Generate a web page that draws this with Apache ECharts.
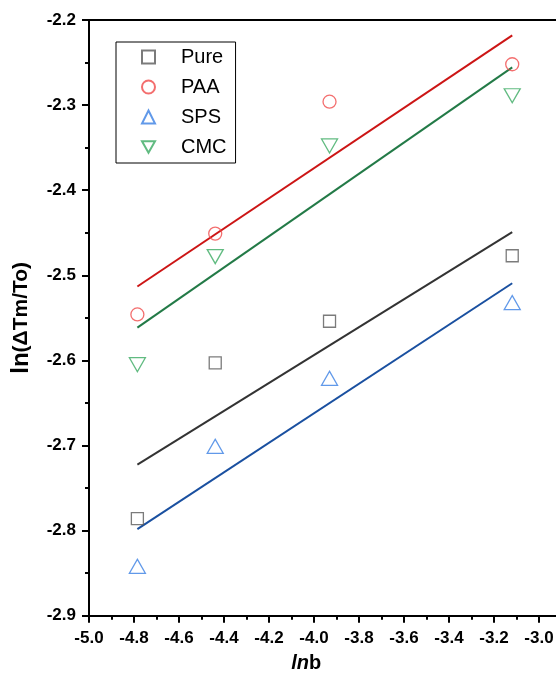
<!DOCTYPE html>
<html>
<head>
<meta charset="utf-8">
<script src="https://cdn.jsdelivr.net/npm/echarts@6/dist/echarts.min.js"></script>
<style>html,body{margin:0;padding:0;background:#fff;}#chart{width:556px;height:679px;}</style>
</head>
<body>
<div id="chart"></div>
<script>
// ---- data ----
const lnb  = [-4.785, -4.439, -3.931, -3.119];
const pure = [-2.786, -2.603, -2.554, -2.477];
const paa  = [-2.546, -2.451, -2.296, -2.252];
const sps  = [-2.842, -2.701, -2.621, -2.532];
const cmc  = [-2.605, -2.478, -2.348, -2.289];
const seriesNames = ['Pure', 'PAA', 'SPS', 'CMC'];
const xTicks = {min: -5.0, max: -2.9, interval: 0.2};
const yTicks = {min: -2.9, max: -2.2, interval: 0.1};

function pairs(xs, ys) { return xs.map((x, i) => [x, ys[i]]); }
function fit(xs, ys) {
  const n = xs.length;
  const mx = xs.reduce((a, b) => a + b, 0) / n;
  const my = ys.reduce((a, b) => a + b, 0) / n;
  let sxy = 0, sxx = 0;
  for (let i = 0; i < n; i++) { sxy += (xs[i] - mx) * (ys[i] - my); sxx += (xs[i] - mx) * (xs[i] - mx); }
  const k = sxy / sxx, b = my - k * mx;
  const x0 = Math.min(...xs), x1 = Math.max(...xs);
  return [[x0, k * x0 + b], [x1, k * x1 + b]];
}

const markerColors = ['#5a5a5a', '#f04a4a', '#3a7fe3', '#3aaa62'];
const lineColors   = ['#333333', '#cc1515', '#1a50a0', '#237a47'];
const symbols = ['rect', 'circle', 'triangle', 'path://M0,0 L16,0 L8,14 Z'];
const sizes = [12, 13, [16, 14], [16, 14]];
const ys = [pure, paa, sps, cmc];

const series = [];
ys.forEach((y, i) => {
  series.push({
    name: seriesNames[i] + ' fit', type: 'line', data: fit(lnb, y),
    showSymbol: false, symbol: 'none', silent: true, z: 2,
    lineStyle: {color: lineColors[i], width: 2}
  });
});
ys.forEach((y, i) => {
  series.push({
    name: seriesNames[i], type: 'scatter', data: pairs(lnb, y),
    symbol: symbols[i], symbolSize: sizes[i], z: 3,
    itemStyle: {color: 'rgba(0,0,0,0)', borderColor: markerColors[i], borderWidth: 1.3}
  });
});

const font = 'Liberation Sans, Arial, sans-serif';
const chart = echarts.init(document.getElementById('chart'));
chart.setOption({
  animation: false,
  backgroundColor: '#fff',
  grid: {left: 89, top: 20, right: -5.5, bottom: 63.3, containLabel: false, outerBoundsMode: 'none'},
  legend: {
    data: seriesNames, orient: 'vertical', left: 116, top: 42,
    borderColor: '#000', borderWidth: 1, padding: [5, 9, 6, 25],
    itemWidth: 13, itemHeight: 13, itemGap: 10,
    textStyle: {fontFamily: font, fontSize: 20, color: '#000', padding: [0, 0, 0, 21]}
  },
  xAxis: [{
    type: 'value', min: xTicks.min, max: xTicks.max, interval: xTicks.interval,
    position: 'bottom',
    name: '{i|ln}{n|b}', nameLocation: 'middle', nameGap: 38,
    nameTextStyle: {padding: [0, 38, 0, 0], rich: {
      i: {fontFamily: font, fontSize: 20, fontWeight: 'bold', fontStyle: 'italic', color: '#000'},
      n: {fontFamily: font, fontSize: 20, fontWeight: 'bold', color: '#000'}}},
    axisLine: {show: true, onZero: false, lineStyle: {color: '#000', width: 2}},
    axisTick: {show: true, inside: false, length: 7, lineStyle: {color: '#000', width: 2}},
    minorTick: {show: true, splitNumber: 2, length: 4, lineStyle: {color: '#000', width: 2}},
    splitLine: {show: false},
    axisLabel: {fontFamily: font, fontSize: 17, fontWeight: 'bold', color: '#000', margin: 14,
      showMaxLabel: false, formatter: v => v.toFixed(1)}
  }, {
    type: 'value', min: xTicks.min, max: xTicks.max, position: 'top',
    axisLine: {show: true, onZero: false, lineStyle: {color: '#000', width: 2}},
    axisTick: {show: false}, axisLabel: {show: false}, splitLine: {show: false}
  }],
  yAxis: {
    type: 'value', min: yTicks.min, max: yTicks.max, interval: yTicks.interval,
    name: '{a|ln}{b|(ΔTm/To)}', nameLocation: 'middle', nameGap: 56, nameRotate: 90,
    nameTextStyle: {rich: {
      a: {fontFamily: font, fontSize: 24, fontWeight: 'bold', color: '#000'},
      b: {fontFamily: font, fontSize: 21, fontWeight: 'bold', color: '#000'}}},
    axisLine: {show: true, onZero: false, lineStyle: {color: '#000', width: 2}},
    axisTick: {show: true, inside: false, length: 7, lineStyle: {color: '#000', width: 2}},
    minorTick: {show: true, splitNumber: 2, length: 4, lineStyle: {color: '#000', width: 2}},
    splitLine: {show: false},
    axisLabel: {fontFamily: font, fontSize: 17, fontWeight: 'bold', color: '#000', margin: 13,
      formatter: v => v.toFixed(1)}
  },
  series: series
});
</script>
</body>
</html>
